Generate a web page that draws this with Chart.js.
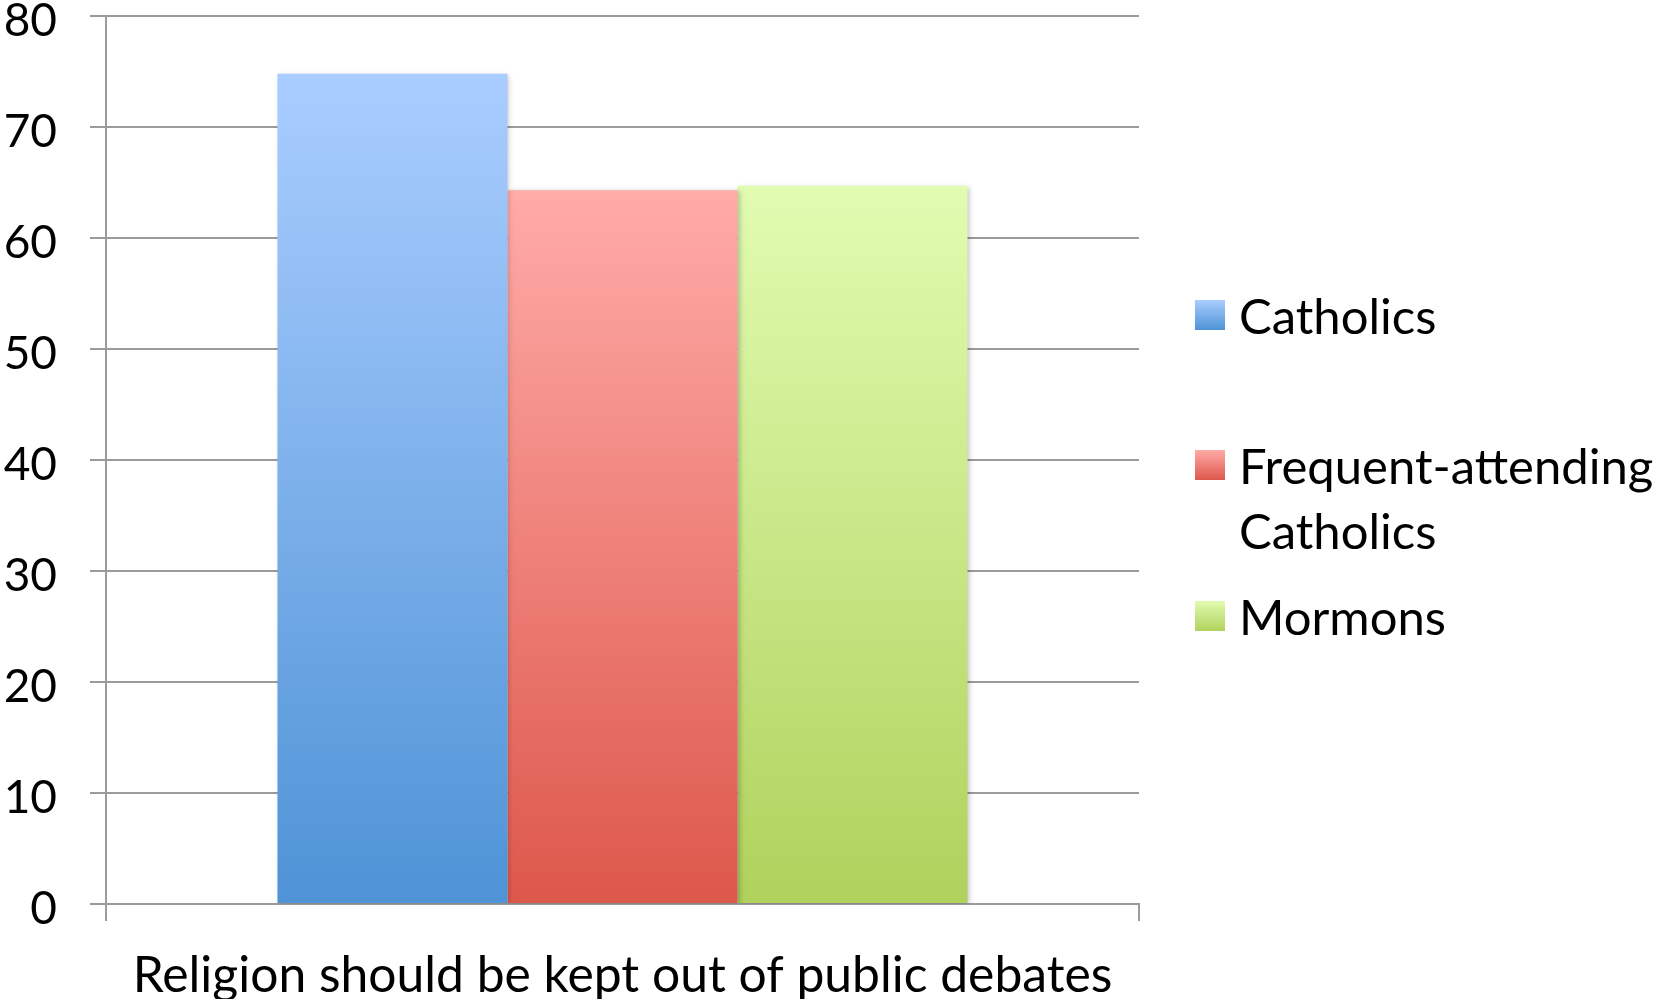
<!DOCTYPE html>
<html>
<head>
<meta charset="utf-8">
<style>
  html, body { margin: 0; padding: 0; background: #ffffff; }
  #wrap { width: 1658px; height: 999px; position: relative; }
  canvas { display: block; }
</style>
<script src="https://cdn.jsdelivr.net/npm/chart.js@4/dist/chart.umd.min.js"></script>
</head>
<body>
<div id="wrap"><canvas id="c" width="1658" height="999"></canvas></div>
<script>
// ---- data ----
const categories = ["Religion should be kept out of public debates"];
const seriesLabels = ["Catholics", "Frequent-attending Catholics", "Mormons"];
const catholics = [74.8];
const frequentCatholics = [64.3];
const mormons = [64.7];
const yTicks = [0, 10, 20, 30, 40, 50, 60, 70, 80];

// ---- styles ----
const gradTop = ["#aacdff", "#ffaba8", "#e1fcb1"];
const gradBottom = ["#4e93d6", "#dd574b", "#b0d15c"];
const FONT = "Lato, 'Open Sans', sans-serif";
const GRID = "#9b9b9b";

function barGradient(ctx) {
  const chart = ctx.chart;
  const i = ctx.datasetIndex;
  if (!chart.chartArea || !chart.scales.y) return gradBottom[i];
  const y = chart.scales.y;
  const top = y.getPixelForValue(ctx.raw == null ? 0 : ctx.raw);
  const bot = y.getPixelForValue(0);
  const g = chart.ctx.createLinearGradient(0, top, 0, bot);
  g.addColorStop(0, gradTop[i]);
  g.addColorStop(1, gradBottom[i]);
  return g;
}

const shadowPlugin = {
  id: 'barShadow',
  beforeDatasetDraw(chart) {
    const c = chart.ctx;
    c.save();
    c.shadowColor = 'rgba(0,0,0,0.22)';
    c.shadowBlur = 5;
    c.shadowOffsetX = 2;
    c.shadowOffsetY = 1;
  },
  afterDatasetDraw(chart) { chart.ctx.restore(); }
};

const legendPlugin = {
  id: 'sideLegend',
  afterDraw(chart, args, opts) {
    const c = chart.ctx;
    c.save();
    c.font = opts.fontSize + "px " + FONT;
    c.textBaseline = 'middle';
    c.textAlign = 'left';
    chart.data.datasets.forEach((ds, i) => {
      const words = ds.label.split(' ');
      const lines = [];
      let cur = '';
      words.forEach(w => {
        const t = cur ? cur + ' ' + w : w;
        if (cur && c.measureText(t).width > opts.wrapWidth) { lines.push(cur); cur = w; }
        else cur = t;
      });
      if (cur) lines.push(cur);
      const cy = opts.itemY[i];
      const s = opts.box;
      const sy = cy + opts.boxDy - s / 2;
      const g = c.createLinearGradient(0, sy, 0, sy + s);
      g.addColorStop(0, gradTop[i]);
      g.addColorStop(1, gradBottom[i]);
      c.fillStyle = g;
      c.fillRect(opts.boxX, sy, s, s);
      c.fillStyle = '#000000';
      lines.forEach((ln, k) => {
        c.fillText(ln, opts.textX, cy + k * opts.lineHeight);
      });
    });
    c.restore();
  }
};

const datasetsData = [catholics, frequentCatholics, mormons];

new Chart(document.getElementById('c'), {
  type: 'bar',
  data: {
    labels: categories,
    datasets: seriesLabels.map((lab, i) => ({
      label: lab,
      data: datasetsData[i],
      backgroundColor: barGradient,
      borderWidth: 0,
      categoryPercentage: 0.668,
      barPercentage: 1.0
    }))
  },
  options: {
    responsive: false,
    animation: false,
    devicePixelRatio: 1,
    layout: { autoPadding: false, padding: { top: 16, right: 519, left: 0, bottom: 0 } },
    plugins: {
      legend: { display: false },
      tooltip: { enabled: false },
      sideLegend: {
        fontSize: 49,
        wrapWidth: 420,
        lineHeight: 65,
        itemY: [318, 468, 619],
        boxX: 1195,
        box: 30,
        boxDy: -3,
        textX: 1239
      }
    },
    scales: {
      x: {
        grid: {
          display: true,
          drawOnChartArea: false,
          drawTicks: true,
          tickLength: 17,
          color: GRID,
          lineWidth: 2,
          offset: true
        },
        border: { display: true, color: GRID, width: 2 },
        ticks: {
          color: '#000000',
          font: { family: FONT, size: 49.8 },
          padding: 25,
          maxRotation: 0
        },
        afterFit(scale) { scale.height = 95; scale.paddingLeft = 0; scale.paddingRight = 0; }
      },
      y: {
        min: 0,
        max: 80,
        afterBuildTicks(scale) { scale.ticks = yTicks.map(v => ({ value: v })); },
        grid: {
          color: GRID,
          lineWidth: 2,
          drawTicks: true,
          tickLength: 16
        },
        border: { display: true, color: GRID, width: 2 },
        ticks: {
          color: '#000000',
          font: { family: FONT, size: 46 },
          padding: 33,
          labelOffset: 5,
          stepSize: 10
        },
        afterFit(scale) { scale.width = 106; scale.paddingTop = 0; scale.paddingBottom = 0; }
      }
    }
  },
  plugins: [shadowPlugin, legendPlugin]
});
</script>
</body>
</html>
